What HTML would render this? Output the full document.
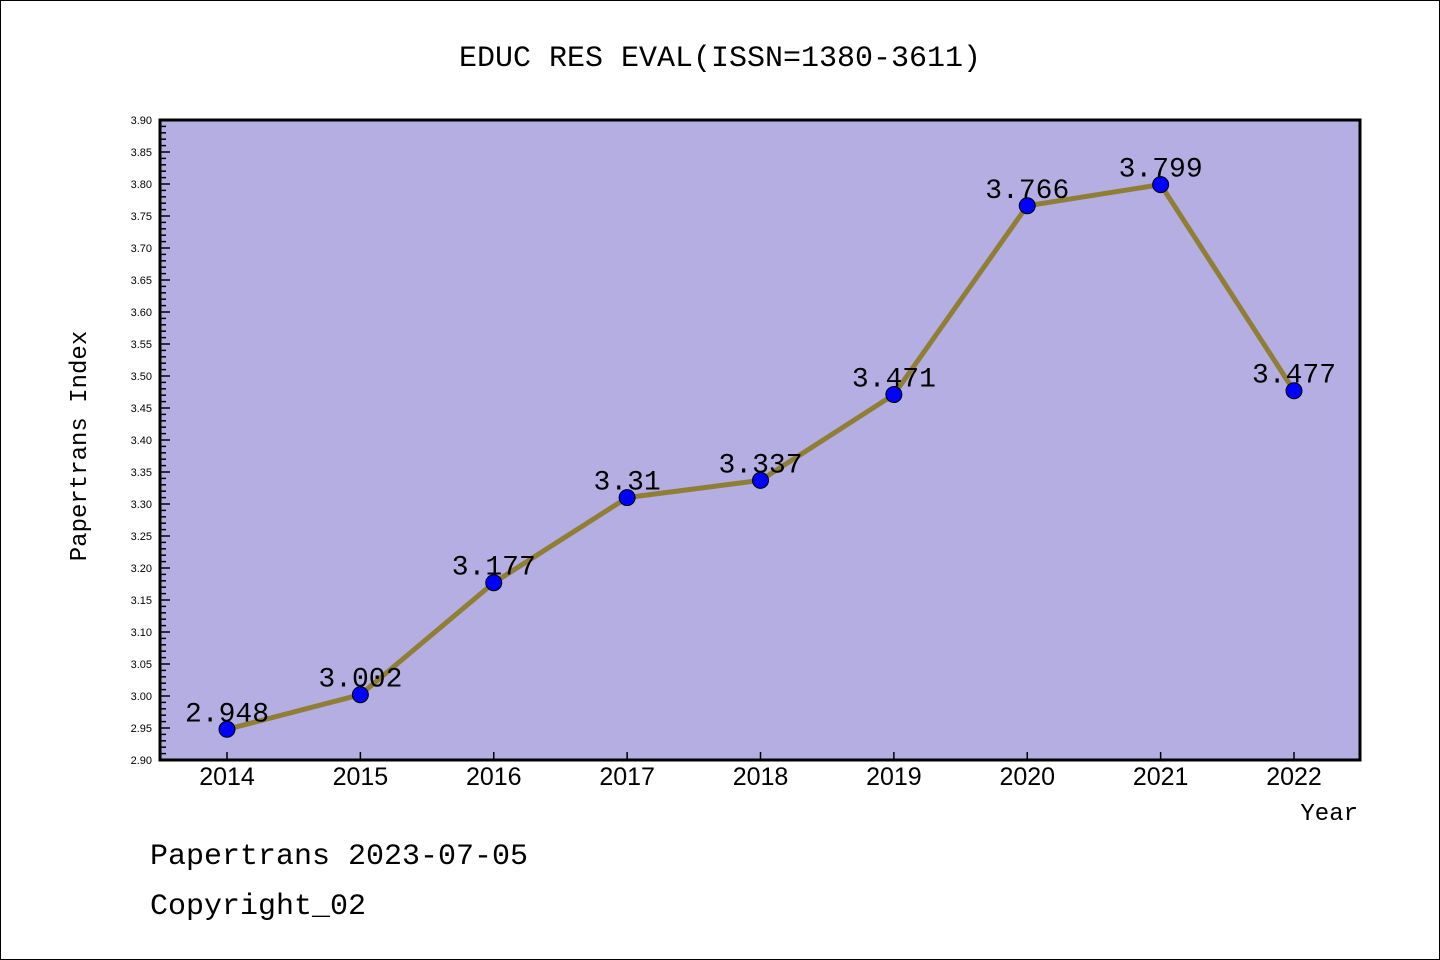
<!DOCTYPE html>
<html><head><meta charset="utf-8"><style>
html,body{margin:0;padding:0;background:#fff}
svg{display:block}
text{font-family:"Liberation Mono","Noto Sans CJK SC",monospace}
.sans{font-family:"Liberation Sans","DejaVu Sans",sans-serif}
</style></head><body>
<svg id="chart" width="1440" height="960">
<rect x="0.5" y="0.5" width="1439" height="959" fill="#fff" stroke="#000"/>
<text x="720" y="66" font-size="30" text-anchor="middle">EDUC RES EVAL(ISSN=1380-3611)</text>
<rect x="160" y="120" width="1200" height="640" fill="#b5aee2"/>
<g id="yaxis"></g>
<g id="xaxis"></g>
<g id="series"></g>
<rect x="160" y="120" width="1200" height="640" fill="none" stroke="#000" stroke-width="3"/>
<text x="86" y="446" font-size="24" text-anchor="middle" transform="rotate(-90 86 446)">Papertrans Index</text>
<text x="1358" y="820" font-size="24" text-anchor="end">Year</text>
<text x="150" y="864" font-size="30">Papertrans 2023-07-05</text>
<text x="150" y="914" font-size="30">Copyright_02</text>
</svg>
<script>
const years = [2014,2015,2016,2017,2018,2019,2020,2021,2022];
const values = [2.948,3.002,3.177,3.31,3.337,3.471,3.766,3.799,3.477];
const labels = ["2.948","3.002","3.177","3.31","3.337","3.471","3.766","3.799","3.477"];
const yTicks = [2.90,2.95,3.00,3.05,3.10,3.15,3.20,3.25,3.30,3.35,3.40,3.45,3.50,3.55,3.60,3.65,3.70,3.75,3.80,3.85,3.90];
const NS="http://www.w3.org/2000/svg";
const yMin=2.9,yMax=3.9;
function ys(v){return 760-(v-yMin)/(yMax-yMin)*640;}
function xs(i){return 227+i*(1294-227)/(years.length-1);}
function mk(t,a,p){const e=document.createElementNS(NS,t);for(const k in a)e.setAttribute(k,a[k]);p.appendChild(e);return e;}
const ya=document.getElementById('yaxis');
for(let k=0;k<=100;k++){
  const v=yMin+k*0.01,y=ys(v),major=k%5===0;
  const t=mk('line',{x1:160,x2:160+(major?10:6),y1:y,y2:y,stroke:'#000','stroke-width':1.5},ya);
  
  
}
yTicks.forEach(v=>{
  const t=mk('text',{x:152,y:ys(v)+4,'font-size':11,'text-anchor':'end',class:'sans'},ya);
  t.textContent=v.toFixed(2);
  
  
});
const xa=document.getElementById('xaxis');
years.forEach((yr,i)=>{
  const l=mk('line',{x1:xs(i),x2:xs(i),y1:760,y2:752,stroke:'#000','stroke-width':1.5},xa);
  
  
  const t=mk('text',{x:xs(i),y:785,'font-size':25,'text-anchor':'middle',class:'sans'},xa);
  t.textContent=yr;
  
  
});
const s=document.getElementById('series');
const pl=mk('polyline',{points:values.map((v,i)=>xs(i)+','+ys(v)).join(' '),fill:'none',stroke:'#8f7f34','stroke-width':5},s);


values.forEach((v,i)=>{
  const c=mk('circle',{cx:xs(i),cy:ys(v),r:8,fill:'#0000ff',stroke:'#000','stroke-width':1},s);
  
  
  const t=mk('text',{x:xs(i),y:ys(v)-8,'font-size':28,'text-anchor':'middle'},s);
  t.textContent=labels[i];
  
  
});
</script>
</body></html>
